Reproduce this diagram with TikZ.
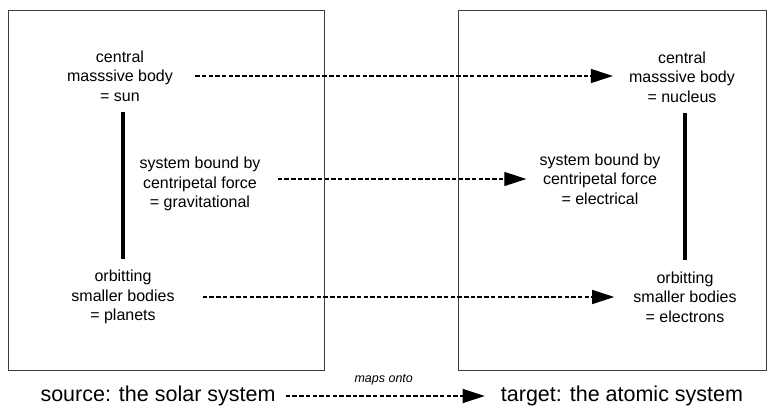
\documentclass[tikz,border=0pt]{standalone}
\usepackage{fontspec}
\setmainfont{Liberation Sans}
\usetikzlibrary{arrows.meta}
\definecolor{framegray}{RGB}{60,60,60}

\begin{document}
\begin{tikzpicture}[x=1pt, y=1pt,
  item/.style={align=center, inner sep=0pt, font=\fontsize{16}{19.5}\selectfont},
  caption/.style={inner sep=0pt, font=\fontsize{21.5}{24}\selectfont},
  maparrow/.style={dash pattern=on 4.5pt off 2.2pt, line width=1.3pt,
    -{Triangle[length=22pt,width=14pt]}},
  bar/.style={line width=3.5pt},
  frame/.style={draw=framegray, line width=0.9pt}]

% Cadre
\useasboundingbox (0,0) rectangle (767,-408);

% Boites source / cible
\draw[frame] (8,-10) rectangle (324,-370);
\draw[frame] (458,-10) rectangle (766,-370);

% Systeme solaire
\node[item] (sun)     at (120,-76)  {central\\masssive body\\= sun};
\node[item] (gravity) at (200,-184) {system bound by\\centripetal force\\= gravitational};
\node[item] (planets) at (123,-297) {orbitting\\smaller bodies\\= planets};
\draw[bar, shorten <=10pt, shorten >=11pt] (sun.south -| planets.north) -- (planets.north);

% Systeme atomique
\node[item] (nucleus)   at (682,-77)  {central\\masssive body\\= nucleus};
\node[item] (electric)  at (600,-179) {system bound by\\centripetal force\\= electrical};
\node[item] (electrons) at (685,-297) {orbitting\\smaller bodies\\= electrons};
\draw[bar, shorten <=10pt, shorten >=11pt] (nucleus.south -| electrons.north) -- (electrons.north);

% Correspondances
\draw[maparrow, shorten <=22pt, shorten >=16pt] (sun.east) -- (sun.east -| nucleus.west);
\draw[maparrow, shorten <=17pt, shorten >=13pt] (gravity.east |- electric.west) -- (electric.west);
\draw[maparrow, shorten <=28pt, shorten >=19pt] (planets.east) -- (planets.east -| electrons.west);

% Legende
\node[caption] (source) at (158,-396) {source: the solar system};
\node[caption] (target) at (622,-396) {target: the atomic system};
\draw[maparrow, shorten <=10pt, shorten >=16pt] (source.east) -- (target.west)
  node[pos=0.48, above=10pt, inner sep=0pt, font=\fontsize{12.5}{14}\selectfont\itshape] (maps) {maps onto};

\end{tikzpicture}
\end{document}
